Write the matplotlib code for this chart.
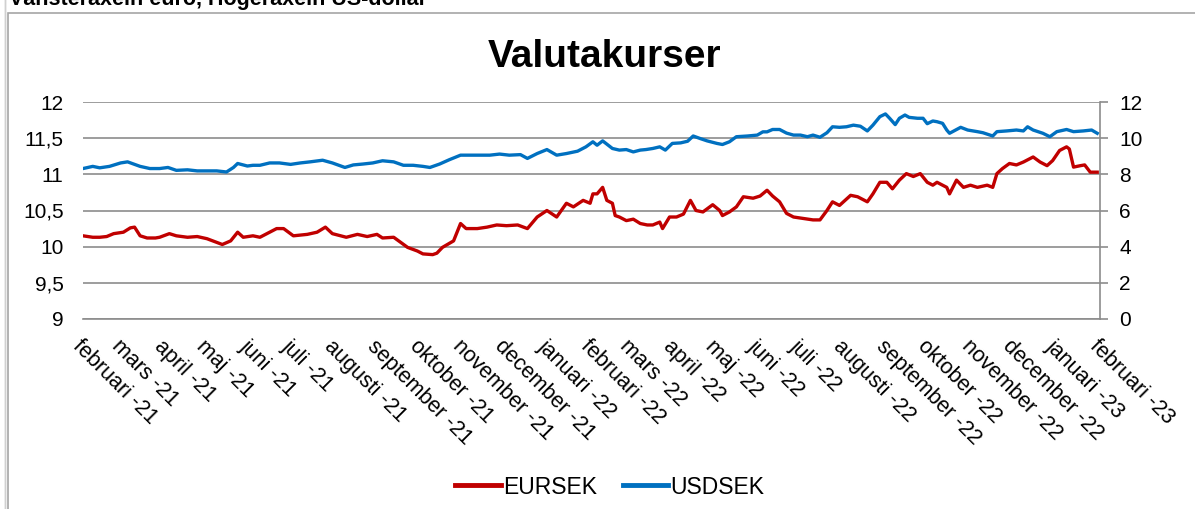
import numpy as np
import matplotlib
matplotlib.use("Agg")
import matplotlib.pyplot as plt
from matplotlib.patches import Rectangle

plt.rcParams['font.family'] = ['Liberation Sans', 'DejaVu Sans']

# ---- data (day offset from 2021-02-01, value) ----
eur_day = [0, 7, 12, 17, 22, 29, 34, 37, 41, 46, 52, 55, 62, 67, 75, 82, 89, 96, 100, 106,
           111, 115, 122, 127, 132, 139, 144, 151, 161, 168, 174, 179, 189, 197, 204, 211, 215, 223, 228, 233,
           240, 244, 251, 254, 258, 266, 271, 275, 283, 290, 297, 304, 312, 319, 326, 333, 340, 347, 352, 359,
           364, 366, 369, 373, 376, 380, 382, 385, 390, 395, 400, 405, 409, 414, 416, 421, 426, 431, 436, 440,
           445, 452, 457, 459, 464, 469, 474, 481, 486, 491, 495, 500, 505, 510, 517, 524, 529, 534, 538, 543,
           551, 556, 563, 567, 572, 577, 581, 586, 591, 596, 601, 606, 610, 613, 620, 622, 627, 632, 637, 642,
           649, 653, 656, 660, 665, 670, 675, 682, 687, 692, 696, 701, 706, 708, 711, 716, 719, 723, 728]
eur_val = [10.15, 10.13, 10.13, 10.14, 10.18, 10.20, 10.26, 10.27, 10.15, 10.12, 10.12, 10.13, 10.18, 10.15, 10.13, 10.14, 10.11, 10.06, 10.03, 10.08,
           10.20, 10.13, 10.15, 10.13, 10.18, 10.25, 10.25, 10.15, 10.17, 10.20, 10.27, 10.18, 10.13, 10.17, 10.14, 10.17, 10.12, 10.13, 10.06, 9.99,
           9.94, 9.90, 9.89, 9.91, 9.99, 10.08, 10.32, 10.25, 10.25, 10.27, 10.30, 10.29, 10.30, 10.25, 10.41, 10.50, 10.41, 10.60, 10.55, 10.64,
           10.60, 10.73, 10.73, 10.82, 10.64, 10.60, 10.43, 10.41, 10.36, 10.38, 10.32, 10.30, 10.30, 10.34, 10.25, 10.41, 10.41, 10.45, 10.64, 10.50,
           10.48, 10.58, 10.50, 10.43, 10.48, 10.55, 10.69, 10.67, 10.70, 10.78, 10.70, 10.62, 10.46, 10.41, 10.39, 10.37, 10.37, 10.50, 10.62, 10.57,
           10.71, 10.69, 10.62, 10.73, 10.89, 10.89, 10.80, 10.92, 11.01, 10.97, 11.01, 10.89, 10.85, 10.89, 10.82, 10.73, 10.92, 10.82, 10.85, 10.82,
           10.85, 10.82, 11.01, 11.08, 11.15, 11.13, 11.17, 11.24, 11.17, 11.12, 11.19, 11.33, 11.38, 11.35, 11.10, 11.12, 11.13, 11.03, 11.03]

usd_day = [0, 7, 12, 19, 27, 32, 36, 41, 48, 55, 61, 67, 75, 82, 89, 96, 103, 108, 111, 118,
           122, 127, 134, 141, 149, 156, 163, 172, 179, 188, 194, 201, 208, 215, 223, 230, 237, 244, 249, 256,
           263, 271, 278, 285, 292, 299, 306, 314, 319, 326, 333, 340, 347, 355, 361, 366, 369, 373, 377, 380,
           385, 390, 395, 400, 404, 409, 414, 418, 423, 429, 434, 438, 443, 448, 455, 459, 464, 469, 477, 484,
           488, 491, 495, 500, 505, 510, 515, 520, 524, 529, 534, 538, 543, 548, 553, 558, 563, 567, 572, 576,
           579, 583, 586, 590, 593, 599, 603, 606, 610, 613, 617, 620, 622, 630, 635, 642, 646, 653, 656, 663,
           670, 675, 678, 682, 689, 694, 699, 706, 711, 718, 724, 728]
usd_val = [8.32, 8.44, 8.36, 8.44, 8.63, 8.69, 8.58, 8.44, 8.32, 8.32, 8.38, 8.22, 8.25, 8.19, 8.19, 8.19, 8.13, 8.38, 8.60, 8.46,
           8.50, 8.50, 8.63, 8.63, 8.55, 8.63, 8.69, 8.78, 8.63, 8.38, 8.52, 8.57, 8.63, 8.75, 8.69, 8.50, 8.50, 8.44, 8.38, 8.57,
           8.81, 9.06, 9.06, 9.06, 9.06, 9.12, 9.06, 9.09, 8.88, 9.15, 9.37, 9.06, 9.15, 9.28, 9.52, 9.80, 9.61, 9.85, 9.61, 9.43,
           9.34, 9.37, 9.24, 9.34, 9.37, 9.43, 9.52, 9.34, 9.71, 9.74, 9.83, 10.12, 9.98, 9.85, 9.71, 9.65, 9.80, 10.08, 10.12, 10.17,
           10.35, 10.35, 10.48, 10.48, 10.28, 10.17, 10.17, 10.08, 10.17, 10.05, 10.30, 10.63, 10.60, 10.63, 10.72, 10.66, 10.40, 10.72, 11.19, 11.34,
           11.10, 10.75, 11.10, 11.28, 11.15, 11.10, 11.10, 10.80, 10.95, 10.91, 10.82, 10.45, 10.27, 10.60, 10.45, 10.36, 10.30, 10.12, 10.36, 10.40,
           10.45, 10.40, 10.63, 10.45, 10.27, 10.08, 10.36, 10.48, 10.36, 10.40, 10.45, 10.27]

month_names = ['februari', 'mars', 'april', 'maj', 'juni', 'juli', 'augusti', 'september',
               'oktober', 'november', 'december', 'januari']
tick_labels = ([f'{m} -21' for m in month_names[:11]] + [f'{m} -22' for m in month_names[11:]]
               + [f'{m} -22' for m in month_names[:11]] + [f'{m} -23' for m in month_names[11:]]
               + ['februari -23'])

left_ticks = [9, 9.5, 10, 10.5, 11, 11.5, 12]
left_labels = ['9', '9,5', '10', '10,5', '11', '11,5', '12']
right_ticks = [0, 2, 4, 6, 8, 10, 12]

# ---- figure ----
W, H = 1195, 509
fig = plt.figure(figsize=(W / 100, H / 100), dpi=100)
fig.patch.set_facecolor('white')

# outer frame
fig.patches.append(Rectangle((8 / W, -0.05), 1.2, 1 - 13 / H + 0.05, transform=fig.transFigure,
                             fill=False, edgecolor='#a6a6a6', linewidth=1.2))
fig.patches.append(Rectangle((5 / W, -0.05), 0.0, 1.1, transform=fig.transFigure,
                             fill=False, edgecolor='#d0d0d0', linewidth=1.0))
fig.text(9 / W, 1 - 5 / H, 'Vänsteraxeln euro, Högeraxeln US-dollar', fontsize=15.5,
         fontweight='bold', ha='left', va='baseline', color='black')

ax = fig.add_axes([83 / W, 1 - 319 / H, (1100 - 83) / W, (319 - 102) / H])
ax2 = ax.twinx()

base = np.datetime64('2021-02-01')
eur_x = base + np.array(eur_day).astype('timedelta64[D]')
usd_x = base + np.array(usd_day).astype('timedelta64[D]')

ax.plot(eur_x, eur_val, color='#C00000', lw=2.4, solid_joinstyle='round', label='EURSEK', zorder=3)
ax2.plot(usd_x, usd_val, color='#0070C0', lw=2.4, solid_joinstyle='round', label='USDSEK', zorder=3)

ax.set_ylim(9, 12)
ax2.set_ylim(0, 12)
ax.set_yticks(left_ticks)
ax.set_yticklabels(left_labels)
ax2.set_yticks(right_ticks)

ticks = (np.datetime64('2021-02', 'M') + np.arange(25)).astype('datetime64[D]')
ax.set_xlim(ticks[0], ticks[-1])
ax.set_xticks(ticks)
ax.set_xticklabels(tick_labels, rotation=-45, ha='left', va='top', rotation_mode='anchor')

grid_c = '#8c8c8c'
ax.grid(axis='y', color=grid_c, lw=1.2)
ax.set_axisbelow(True)
for s in ['left', 'top']:
    ax.spines[s].set_visible(False)
    ax2.spines[s].set_visible(False)
ax.spines['bottom'].set_color(grid_c)
ax.spines['bottom'].set_linewidth(1.2)
ax2.spines['bottom'].set_visible(False)
ax.spines['right'].set_visible(False)
ax2.spines['right'].set_color(grid_c)
ax2.spines['right'].set_linewidth(1.2)

ax.tick_params(axis='y', length=0, pad=14, labelsize=15, colors='black')
ax.tick_params(axis='x', length=0, pad=12, labelsize=15.5, colors='black')
ax2.tick_params(axis='y', length=6, width=1.2, color=grid_c, pad=8, labelsize=15, labelcolor='black')

fig.text(605 / W, 1 - 57 / H, 'Valutakurser', fontsize=28, fontweight='bold', ha='center', va='center')

h1, l1 = ax.get_legend_handles_labels()
h2, l2 = ax2.get_legend_handles_labels()
leg = fig.legend(h1 + h2, l1 + l2, loc='center', bbox_to_anchor=(610 / W, 1 - 487 / H), ncol=2,
                 frameon=False, fontsize=16.5, handlelength=2.0, handletextpad=0.1, columnspacing=1.1)
for line in leg.get_lines():
    line.set_linewidth(3.5)

fig.savefig('out.png', dpi=100)
